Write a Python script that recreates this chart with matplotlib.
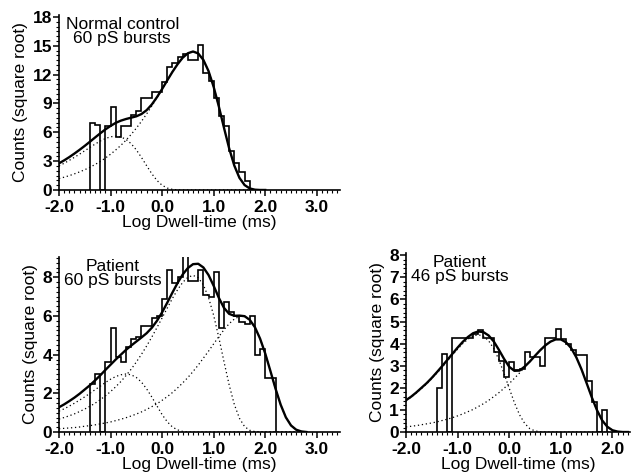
import numpy as np
import matplotlib.pyplot as plt
from matplotlib.ticker import MultipleLocator

plt.rcParams['font.family'] = ['Liberation Sans', 'DejaVu Sans']
plt.rcParams['axes.unicode_minus'] = False

# ---- histograms: square-root counts, 0.1 log-unit bins ----
bin_w = 0.1
ctrl_start = -1.4
ctrl_hist = [7.0, 6.8, 0, 6.7, 8.6, 5.5, 6.7, 6.7, 7.8, 8.2, 9.6, 9.6, 10.2, 10.2,
             11.2, 12.8, 13.2, 13.8, 14.1, 13.5, 13.5, 15.1, 12.2, 11.3, 9.6, 7.7,
             6.7, 4.1, 2.8, 1.9, 0.9]
pat60_start = -1.4
pat60_hist = [2.5, 3.0, 0, 3.6, 5.4, 3.9, 3.6, 4.4, 4.8, 4.9, 5.5, 5.5, 5.9, 6.0,
              6.9, 8.4, 7.7, 8.0, 9.1, 7.8, 7.8, 8.4, 7.1, 7.0, 8.3, 5.4, 6.7, 6.2,
              6.0, 5.7, 5.6, 6.0, 4.0, 4.3, 2.8, 2.8]
pat46_start = -1.4
pat46_hist = [2.0, 3.55, 0, 4.25, 4.25, 4.25, 4.25, 4.45, 4.6, 4.25, 4.25, 3.6,
              3.2, 2.5, 3.15, 2.8, 2.85, 3.6, 3.4, 3.4, 3.0, 4.25, 4.25, 4.65, 4.2,
              4.0, 3.7, 3.5, 3.5, 2.3, 1.35, 0, 1.0]

# ---- fitted curves (x step 0.1 from -2.0) ----
ctrl_x = np.round(np.arange(-2.0, 2.05, 0.1), 1)
ctrl_fit = [2.77, 3.08, 3.42, 3.79, 4.18, 4.59, 5.02, 5.46, 5.89, 6.30,
            6.66, 6.98, 7.21, 7.38, 7.52, 7.66, 7.90, 8.30, 8.89, 9.65,
            10.50, 11.40, 12.28, 13.08, 13.76, 14.22, 14.40, 14.20, 13.53, 12.37,
            10.72, 8.69, 6.47, 4.34, 2.54, 1.26, 0.51, 0.16, 0.03, 0.0, 0.0]
ctrl_fast = [2.50, 2.78, 3.08, 3.40, 3.73, 4.08, 4.43, 4.77, 5.09, 5.35,
             5.53, 5.60, 5.52, 5.26, 4.81, 4.17, 3.38, 2.52, 1.69, 0.99,
             0.49, 0.20, 0.06, 0.01, 0, 0, 0, 0, 0, 0,
             0, 0, 0, 0, 0, 0, 0, 0, 0, 0, 0]
ctrl_slow = [1.19, 1.33, 1.49, 1.68, 1.88, 2.11, 2.36, 2.65, 2.96, 3.32,
             3.72, 4.16, 4.64, 5.18, 5.78, 6.43, 7.14, 7.91, 8.73, 9.60,
             10.49, 11.40, 12.28, 13.08, 13.76, 14.22, 14.40, 14.20, 13.53, 12.37,
             10.72, 8.69, 6.47, 4.34, 2.54, 1.26, 0.51, 0.16, 0.03, 0.0, 0.0]

pat60_x = np.round(np.arange(-2.0, 2.85, 0.1), 1)
pat60_fit = [1.28, 1.43, 1.60, 1.78, 1.98, 2.20, 2.42, 2.67, 2.93, 3.21,
             3.48, 3.75, 4.00, 4.25, 4.47, 4.68, 4.89, 5.11, 5.39, 5.75,
             6.19, 6.69, 7.21, 7.71, 8.15, 8.48, 8.68, 8.70, 8.51, 8.12,
             7.56, 6.94, 6.42, 6.11, 6.01, 6.02, 5.99, 5.80, 5.42, 4.83,
             4.06, 3.16, 2.24, 1.41, 0.76, 0.34, 0.12, 0.03, 0.0]
pat60_a = [1.08, 1.20, 1.34, 1.49, 1.65, 1.82, 2.00, 2.19, 2.37, 2.56,
           2.73, 2.87, 2.96, 3.00, 2.96, 2.82, 2.58, 2.23, 1.81, 1.35,
           0.90, 0.53, 0.26, 0.11, 0.03, 0.01, 0, 0, 0, 0,
           0, 0, 0, 0, 0, 0, 0, 0, 0, 0,
           0, 0, 0, 0, 0, 0, 0, 0, 0]
pat60_b = [0.67, 0.75, 0.84, 0.94, 1.06, 1.19, 1.33, 1.49, 1.67, 1.87,
           2.09, 2.34, 2.61, 2.92, 3.25, 3.62, 4.02, 4.45, 4.91, 5.40,
           5.90, 6.41, 6.91, 7.36, 7.74, 8.00, 8.10, 7.98, 7.61, 6.96,
           6.03, 4.89, 3.64, 2.44, 1.43, 0.71, 0.28, 0.09, 0.02, 0,
           0, 0, 0, 0, 0, 0, 0, 0, 0]
pat60_c = [0.17, 0.19, 0.21, 0.23, 0.26, 0.30, 0.33, 0.37, 0.42, 0.47,
           0.52, 0.59, 0.66, 0.74, 0.83, 0.93, 1.04, 1.17, 1.31, 1.46,
           1.64, 1.83, 2.04, 2.28, 2.54, 2.82, 3.13, 3.46, 3.82, 4.18,
           4.56, 4.93, 5.29, 5.60, 5.84, 5.98, 5.98, 5.80, 5.42, 4.83,
           4.06, 3.16, 2.24, 1.41, 0.76, 0.34, 0.12, 0.03, 0.0]

pat46_x = np.round(np.arange(-2.0, 2.35, 0.1), 1)
pat46_fit = [1.44, 1.60, 1.79, 2.00, 2.21, 2.45, 2.71, 2.98, 3.26, 3.54,
             3.82, 4.08, 4.30, 4.47, 4.55, 4.52, 4.37, 4.10, 3.72, 3.31,
             2.95, 2.77, 2.78, 2.96, 3.19, 3.45, 3.70, 3.92, 4.09, 4.19,
             4.19, 4.06, 3.80, 3.38, 2.84, 2.21, 1.57, 0.99, 0.53, 0.24,
             0.08, 0.02, 0.0, 0.0]
pat46_fast = [1.42, 1.58, 1.77, 1.97, 2.18, 2.42, 2.67, 2.93, 3.21, 3.48,
              3.75, 4.00, 4.20, 4.35, 4.40, 4.34, 4.13, 3.78, 3.27, 2.65,
              1.98, 1.33, 0.78, 0.39, 0.15, 0.05, 0.01, 0, 0, 0,
              0, 0, 0, 0, 0, 0, 0, 0, 0, 0,
              0, 0, 0, 0]
pat46_slow = [0.23, 0.26, 0.29, 0.33, 0.37, 0.41, 0.46, 0.52, 0.58, 0.65,
              0.73, 0.82, 0.92, 1.02, 1.15, 1.28, 1.43, 1.60, 1.78, 1.98,
              2.19, 2.43, 2.67, 2.93, 3.19, 3.45, 3.70, 3.92, 4.09, 4.19,
              4.19, 4.06, 3.80, 3.38, 2.84, 2.21, 1.57, 0.99, 0.53, 0.24,
              0.08, 0.02, 0.0, 0.0]

xticks_left = [-2.0, -1.0, 0.0, 1.0, 2.0, 3.0]
xticks_right = [-2.0, -1.0, 0.0, 1.0, 2.0]

fig = plt.figure(figsize=(6.31, 4.72), dpi=100)
ax1 = fig.add_axes([0.0935, 0.5975, 0.4453, 0.3708])
ax2 = fig.add_axes([0.0935, 0.0847, 0.4453, 0.3708])
ax3 = fig.add_axes([0.6434, 0.0847, 0.3550, 0.3793])

dot = (0, (1, 2.2))


def panel(ax, start, hist, x, fit, comps, xlim, ylim, xticks, ymajor, yminor, text, tx):
    edges = start + bin_w * np.arange(len(hist) + 1)
    ax.stairs(hist, edges, baseline=0, color='black', lw=1.2)
    for c in comps:
        ax.plot(x, c, color='black', lw=0.9, linestyle=dot)
    ax.plot(x, fit, color='black', lw=1.7)
    ax.set_xlim(*xlim)
    ax.set_ylim(*ylim)
    for s in ['top', 'right']:
        ax.spines[s].set_visible(False)
    for s in ['left', 'bottom']:
        ax.spines[s].set_linewidth(1.2)
    ax.set_xticks(xticks)
    ax.set_xticklabels(['%.1f' % v for v in xticks])
    ax.xaxis.set_minor_locator(MultipleLocator(0.1))
    ax.yaxis.set_major_locator(MultipleLocator(ymajor))
    ax.yaxis.set_minor_locator(MultipleLocator(yminor))
    ax.tick_params(which='major', direction='out', length=4, width=1.1,
                   labelsize=12.5)
    ax.tick_params(axis='x', which='major', pad=3)
    ax.tick_params(axis='y', which='major', pad=1)
    ax.tick_params(which='minor', direction='out', length=2, width=0.8)
    for lab in ax.get_xticklabels() + ax.get_yticklabels():
        lab.set_fontweight('bold')
    # keep the "0" of the y axis clear of the first x label
    ax.get_yticklabels()[0].set_verticalalignment('bottom')
    ax.set_xlabel('Log Dwell-time (ms)', fontsize=12.5, labelpad=0)
    ax.set_ylabel('Counts (square root)', fontsize=12.5, labelpad=3)
    ax.text(tx, 0.99, text, transform=ax.transAxes, ha='center', va='top',
            fontsize=12.5, linespacing=0.95)


panel(ax1, ctrl_start, ctrl_hist, ctrl_x, ctrl_fit, [ctrl_fast, ctrl_slow],
      (-2.0, 3.45), (0, 18.2), xticks_left, 3, 0.5,
      'Normal control\n60 pS bursts', 0.225)
panel(ax2, pat60_start, pat60_hist, pat60_x, pat60_fit, [pat60_a, pat60_b, pat60_c],
      (-2.0, 3.45), (0, 9.05), xticks_left, 2, 0.25,
      'Patient\n60 pS bursts', 0.19)
panel(ax3, pat46_start, pat46_hist, pat46_x, pat46_fit, [pat46_fast, pat46_slow],
      (-2.0, 2.34), (0, 8.1), xticks_right, 1, 0.2,
      'Patient\n46 pS bursts', 0.24)

fig.savefig('out.png', dpi=100)
